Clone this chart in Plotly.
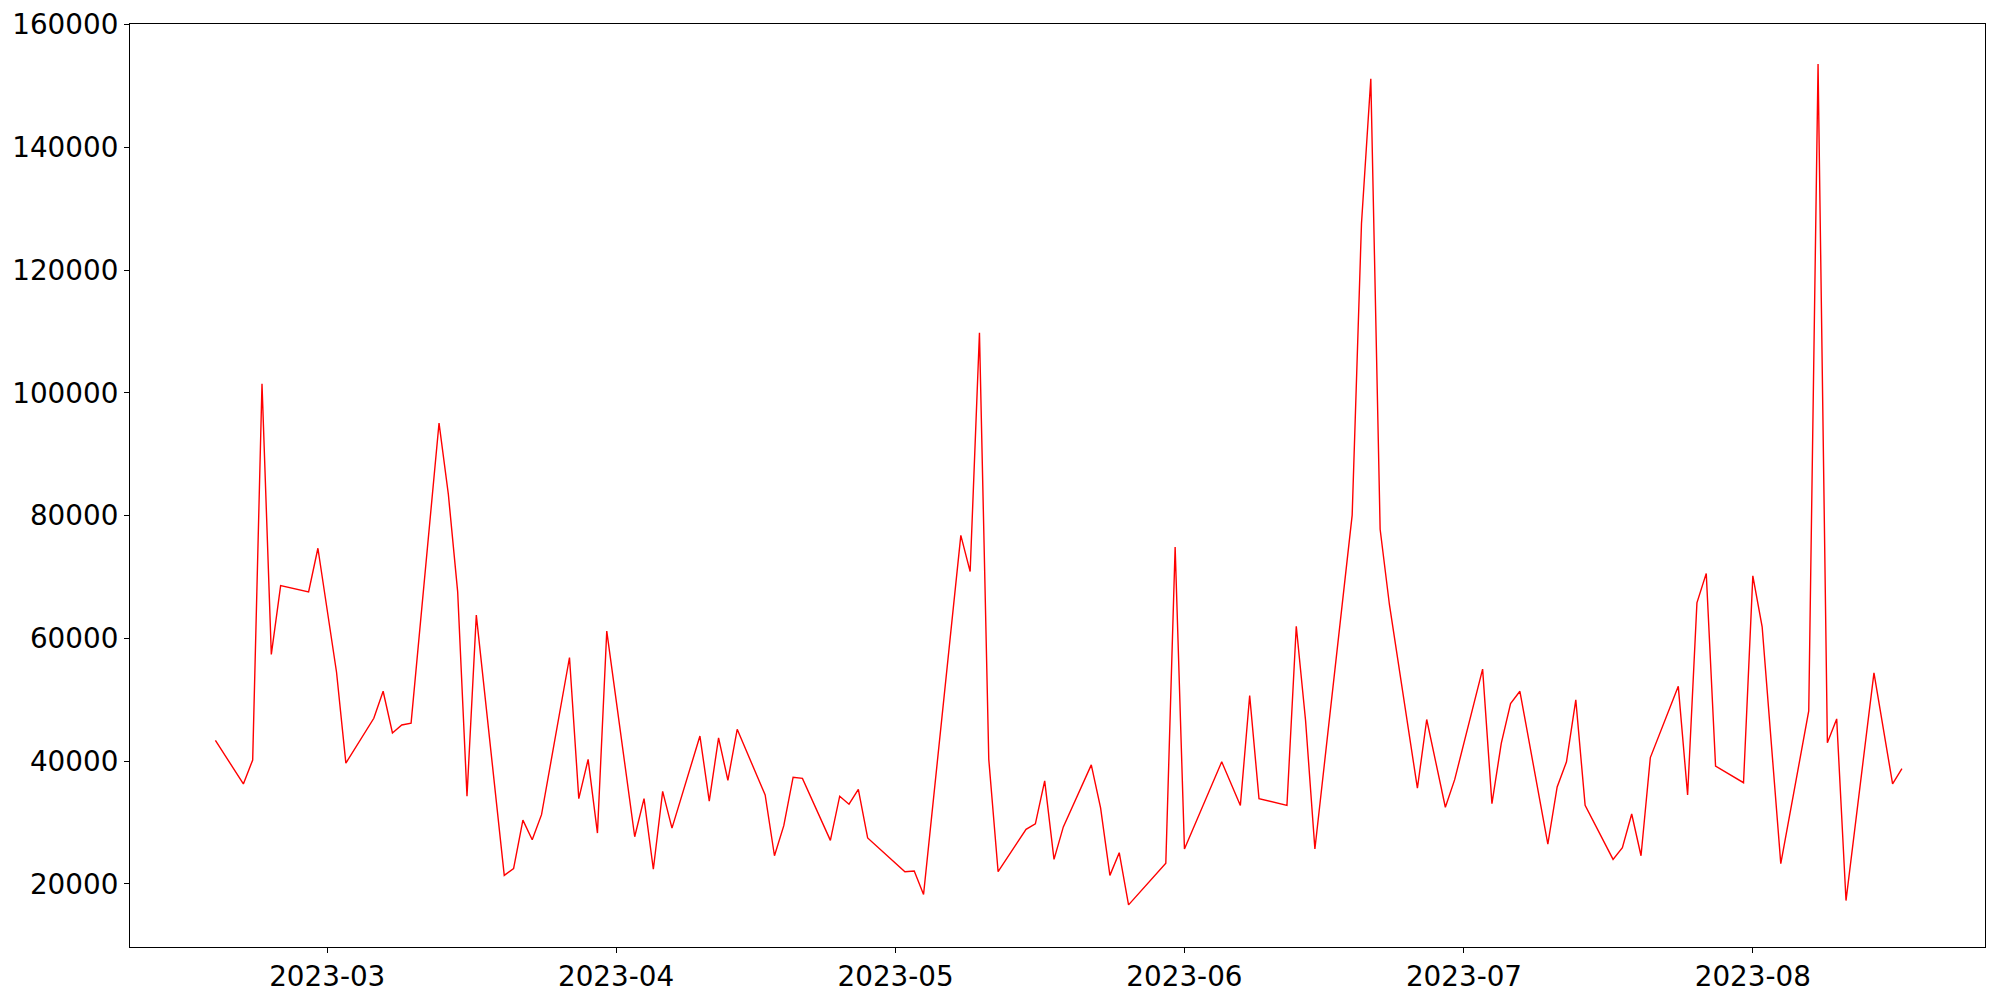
import plotly.graph_objects as go

dates = [
    "2023-02-17", "2023-02-20", "2023-02-21", "2023-02-22", "2023-02-23", "2023-02-24",
    "2023-02-27", "2023-02-28", "2023-03-02", "2023-03-03",
    "2023-03-06", "2023-03-07", "2023-03-08", "2023-03-09", "2023-03-10",
    "2023-03-13", "2023-03-14", "2023-03-15", "2023-03-16", "2023-03-17",
    "2023-03-20", "2023-03-21", "2023-03-22", "2023-03-23", "2023-03-24",
    "2023-03-27", "2023-03-28", "2023-03-29", "2023-03-30", "2023-03-31",
    "2023-04-03", "2023-04-04", "2023-04-05", "2023-04-06", "2023-04-07",
    "2023-04-10", "2023-04-11", "2023-04-12", "2023-04-13", "2023-04-14",
    "2023-04-17", "2023-04-18", "2023-04-19", "2023-04-20", "2023-04-21",
    "2023-04-24", "2023-04-25", "2023-04-26", "2023-04-27", "2023-04-28",
    "2023-05-02", "2023-05-03", "2023-05-04",
    "2023-05-08", "2023-05-09", "2023-05-10", "2023-05-11", "2023-05-12",
    "2023-05-15", "2023-05-16", "2023-05-17", "2023-05-18", "2023-05-19",
    "2023-05-22", "2023-05-23", "2023-05-24", "2023-05-25", "2023-05-26",
    "2023-05-30", "2023-05-31", "2023-06-01",
    "2023-06-05", "2023-06-07", "2023-06-08", "2023-06-09",
    "2023-06-12", "2023-06-13", "2023-06-14", "2023-06-15",
    "2023-06-19", "2023-06-20", "2023-06-21", "2023-06-22", "2023-06-23",
    "2023-06-26", "2023-06-27", "2023-06-29", "2023-06-30",
    "2023-07-03", "2023-07-04", "2023-07-05", "2023-07-06", "2023-07-07",
    "2023-07-10", "2023-07-11", "2023-07-12", "2023-07-13", "2023-07-14",
    "2023-07-17", "2023-07-18", "2023-07-19", "2023-07-20", "2023-07-21",
    "2023-07-24", "2023-07-25", "2023-07-26", "2023-07-27", "2023-07-28",
    "2023-07-31", "2023-08-01", "2023-08-02", "2023-08-04",
    "2023-08-07", "2023-08-08", "2023-08-09", "2023-08-10", "2023-08-11",
    "2023-08-14", "2023-08-16", "2023-08-17",
]

values = [
    43400, 36300, 40200, 101500, 57400, 68600,
    67600, 74700, 54500, 39700,
    47000, 51400, 44600, 45900, 46200,
    95100, 83500, 67600, 34300, 63800,
    21400, 22500, 30400, 27200, 31300,
    56900, 33900, 40300, 28300, 61200,
    27700, 33900, 22400, 35100, 29100,
    44100, 33500, 43800, 36900, 45200,
    34500, 24600, 29500, 37400, 37200,
    27100, 34300, 33000, 35400, 27500,
    22000, 22100, 18300,
    76800, 70900, 109800, 40300, 22000,
    28900, 29800, 36800, 24000, 29300,
    39400, 32400, 21400, 25100, 16600,
    23400, 74900, 25700,
    39900, 32800, 50700, 33900,
    32800, 62000, 46600, 25700,
    80100, 127600, 151200, 77800, 65500,
    35600, 46800, 32500, 37000,
    55000, 33100, 42900, 49400, 51400,
    26500, 35800, 39900, 50000, 32800,
    24000, 25900, 31400, 24600, 40600,
    52200, 34500, 65800, 70600, 39200,
    36500, 70200, 61900, 23300,
    48200, 153600, 43000, 46900, 17300,
    54400, 36300, 38800,
]

x_tick_vals = ["2023-03-01", "2023-04-01", "2023-05-01", "2023-06-01", "2023-07-01", "2023-08-01"]
x_tick_text = ["2023-03", "2023-04", "2023-05", "2023-06", "2023-07", "2023-08"]
y_tick_vals = [20000, 40000, 60000, 80000, 100000, 120000, 140000, 160000]
y_tick_text = [str(v) for v in y_tick_vals]

fig = go.Figure()
fig.add_trace(go.Scatter(
    x=dates, y=values, mode="lines",
    line=dict(color="red", width=1.4),
    showlegend=False,
))

axis_common = dict(
    showgrid=False, zeroline=False, automargin=False,
    showline=True, linecolor="black", linewidth=1.1, mirror=True,
    ticks="outside", ticklen=5, tickwidth=1.1, tickcolor="black",
    tickfont=dict(family="DejaVu Sans", size=27.8, color="black"),
)

fig.update_xaxes(
    range=["2023-02-07 20:00", "2023-08-25 22:00"],
    tickmode="array", tickvals=x_tick_vals, ticktext=x_tick_text,
    **axis_common,
)
fig.update_yaxes(
    range=[9733, 160114],
    tickmode="array", tickvals=y_tick_vals, ticktext=y_tick_text,
    **axis_common,
)

# the page body adds an 8px offset; margins compensate so the plot area
# lands at x 130..1985, y 24..947 in the 2000x1000 window
fig.update_layout(
    width=1984, height=984,
    margin=dict(l=122, r=7, t=16, b=45, pad=0),
    paper_bgcolor="white", plot_bgcolor="white",
    font=dict(family="DejaVu Sans", color="black"),
)

fig.write_html("out.html")
